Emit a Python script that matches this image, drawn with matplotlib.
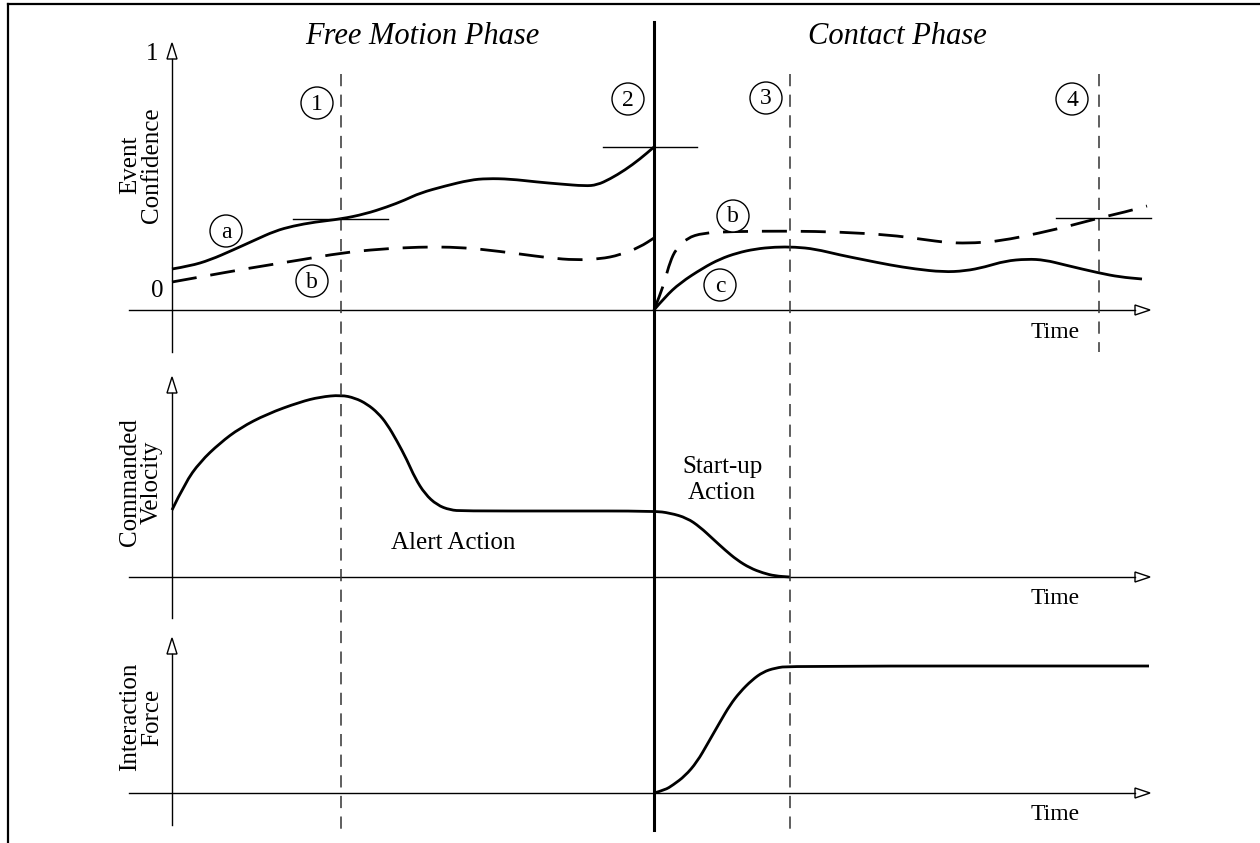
import numpy as np
import matplotlib
matplotlib.use('Agg')
import matplotlib.pyplot as plt
from matplotlib.path import Path
from matplotlib.patches import PathPatch, Circle, Polygon

plt.rcParams['font.family'] = ['Liberation Serif', 'DejaVu Serif']

# --- curves (canvas pixel units, y downwards) ---
conf_a_x = [172, 190, 210, 233, 255, 275, 293, 315, 341, 365, 387, 405, 420, 445, 470, 487,
            510, 537, 560, 585, 597, 610, 625, 640, 654]
conf_a_y = [269, 266, 260, 250, 240, 231, 226, 222, 219, 214, 207, 200, 193, 186, 180, 178.5,
            179, 182, 184, 186, 185, 179, 170, 159, 147]

conf_b_free_x = [172, 200, 250, 300, 341, 380, 420, 450, 480, 520, 550, 575, 600, 620, 640, 654]
conf_b_free_y = [282, 277, 268, 260, 253, 249, 247, 247, 249, 254, 258, 260, 259, 255, 247, 238]

conf_b_cont_x = [654, 660, 665, 670, 676, 687, 703, 730, 790, 840, 890, 920, 950, 975, 1000,
                 1040, 1073, 1099, 1125, 1147]
conf_b_cont_y = [310, 295, 280, 262, 249, 238, 233, 231.5, 231, 232, 235, 239, 243, 243, 241,
                 233, 225, 218, 212, 206]

conf_c_x = [654, 665, 680, 703, 720, 737, 755, 775, 795, 815, 840, 865, 890, 915, 943, 965,
            985, 1005, 1027, 1045, 1065, 1099, 1120, 1142]
conf_c_y = [310, 297, 283, 268, 259, 253, 249, 247, 247, 249, 255, 260, 265, 269, 272, 271,
            267, 261, 259, 260, 265, 273, 277, 279]

vel_x = [172, 185, 200, 220, 240, 267, 300, 320, 341, 355, 367, 378, 387, 397, 407, 415, 425,
         437, 450, 463, 560, 654, 670, 687, 700, 713, 725, 737, 750, 763, 775, 790]
vel_y = [510, 483, 462, 443, 428, 414, 402, 397, 395, 398, 404, 413, 424, 441, 460, 478, 494,
         505, 510, 511, 511, 511, 513, 518, 527, 539, 550, 560, 568, 573, 576, 577]

force_x = [654, 665, 673, 685, 697, 708, 720, 730, 740, 752, 763, 775, 790, 1149]
force_y = [793, 790, 785, 776, 762, 743, 722, 705, 692, 680, 672, 668, 666, 666]

# threshold markers (x from, x to, y)
thresholds = [(293, 388, 219), (603, 697, 147), (1056, 1151, 218)]

# event markers
event_labels = ['1', '2', '3', '4']
event_pos = [(317, 103), (628, 99), (766, 98), (1072, 99)]
curve_labels = ['a', 'b', 'b', 'c']
curve_pos = [(226, 231), (312, 281), (733, 216), (720, 285)]

# panel geometry: (x-axis y, y-axis top, y-axis bottom)
panels = [(310, 43, 352), (577, 377, 618), (793, 638, 825)]
yaxis_x = 172
xaxis_x0, xaxis_x1 = 129, 1150
ylabels = [('Event', 'Confidence'), ('Commanded', 'Velocity'), ('Interaction', 'Force')]
ylabel_y = [165, 482, 717]


def smooth(xs, ys):
    pts = np.column_stack([xs, ys]).astype(float)
    verts = [pts[0]]
    codes = [Path.MOVETO]
    for i in range(1, len(pts) - 1):
        verts += [pts[i], (pts[i] + pts[i + 1]) / 2]
        codes += [Path.CURVE3, Path.CURVE3]
    verts.append(pts[-1])
    codes.append(Path.LINETO)
    return Path(verts, codes)


fig = plt.figure(figsize=(12.6, 8.43), dpi=100)
ax = fig.add_axes([0, 0, 1, 1])
ax.set_xlim(0, 1260)
ax.set_ylim(843, 0)
ax.axis('off')

# frame (top and left only)
ax.plot([8, 1260], [4, 4], color='black', lw=1.6)
ax.plot([8, 8], [4, 843], color='black', lw=1.6)

# axes with hollow arrow heads
for (y0, ytop, ybot), (l1, l2), ly in zip(panels, ylabels, ylabel_y):
    ax.plot([xaxis_x0, xaxis_x1 - 15], [y0, y0], color='black', lw=1.0)
    ax.add_patch(Polygon([[xaxis_x1 - 15, y0 - 5], [xaxis_x1, y0], [xaxis_x1 - 15, y0 + 5]],
                         closed=True, fc='white', ec='black', lw=1.0))
    ax.plot([yaxis_x, yaxis_x], [ytop + 16, ybot], color='black', lw=1.0)
    ax.add_patch(Polygon([[yaxis_x - 5, ytop + 16], [yaxis_x, ytop], [yaxis_x + 5, ytop + 16]],
                         closed=True, fc='white', ec='black', lw=1.0))
    ax.text(1055, y0 + 22, 'Time', fontsize=17, ha='center', va='center')
    ax.text(130, ly, l1, fontsize=18, rotation=90, ha='center', va='center',
            rotation_mode='anchor')
    ax.text(152, ly, l2, fontsize=18, rotation=90, ha='center', va='center',
            rotation_mode='anchor')

ax.text(152, 54, '1', fontsize=18, ha='center', va='center')
ax.text(157, 291, '0', fontsize=18, ha='center', va='center')

# event lines
for x, ytop, ybot in [(341, 74, 830), (790, 74, 830), (1099, 74, 352)]:
    ax.plot([x, x], [ytop, ybot], color='#333333', lw=1.1, dashes=(8, 5.5))
ax.plot([654, 654], [22, 830], color='black', lw=2.2)

# threshold ticks
for x0, x1, y in thresholds:
    ax.plot([x0, x1], [y, y], color='black', lw=1.0)

# curves
ax.add_patch(PathPatch(smooth(conf_a_x, conf_a_y), fc='none', ec='black', lw=2.0))
ax.add_patch(PathPatch(smooth(conf_b_free_x, conf_b_free_y), fc='none', ec='black', lw=2.0,
                       linestyle=(0, (9, 5))))
ax.add_patch(PathPatch(smooth(conf_b_cont_x, conf_b_cont_y), fc='none', ec='black', lw=2.0,
                       linestyle=(0, (9, 5))))
ax.add_patch(PathPatch(smooth(conf_c_x, conf_c_y), fc='none', ec='black', lw=2.0))
ax.add_patch(PathPatch(smooth(vel_x, vel_y), fc='none', ec='black', lw=2.0))
ax.add_patch(PathPatch(smooth(force_x, force_y), fc='none', ec='black', lw=2.0))

# circled labels
for lab, (cx, cy) in zip(event_labels + curve_labels, event_pos + curve_pos):
    ax.add_patch(Circle((cx, cy), 16, fc='white', ec='black', lw=1.0))
    ax.text(cx, cy + 1, lab, fontsize=17, ha='center', va='center')

# titles and annotations
ax.text(422, 36, 'Free Motion Phase', fontsize=22, style='italic', ha='center', va='center')
ax.text(897, 36, 'Contact Phase', fontsize=22, style='italic', ha='center', va='center')
ax.text(453, 543, 'Alert Action', fontsize=18, ha='center', va='center')
ax.text(722, 467, 'Start-up', fontsize=18, ha='center', va='center')
ax.text(722, 493, 'Action', fontsize=18, ha='center', va='center')

fig.savefig('out.png', dpi=100)
